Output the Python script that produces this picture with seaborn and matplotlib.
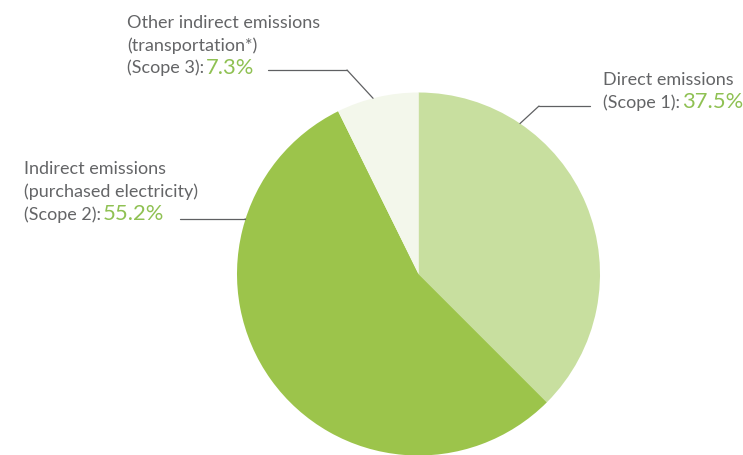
import matplotlib
matplotlib.use("Agg")
import matplotlib.pyplot as plt
import seaborn as sns
import numpy as np
from matplotlib.lines import Line2D

# Emission shares by scope
categories = ["Direct emissions", "Indirect emissions\n(purchased electricity)",
              "Other indirect emissions\n(transportation*)"]
scopes = ["(Scope 1):", "(Scope 2):", "(Scope 3):"]
values = [37.5, 55.2, 7.3]
slice_colors = ["#c8df9f", "#9cc44b", "#f3f7eb"]

sns.set_theme(style="white")
plt.rcParams["font.family"] = ["Lato", "DejaVu Sans"]

W, H = 743, 455
fig = plt.figure(figsize=(W / 100, H / 100), dpi=100)
fig.patch.set_facecolor("white")


def fpos(x, y):
    """Pixel position measured from the top-left corner -> figure fraction."""
    return x / W, 1 - y / H


# Pie axes: centre (418.5, 274) px, radius 181.5 px
cx, cy, r = 418.5, 274, 181.5
ax = fig.add_axes([(cx - r) / W, (H - cy - r) / H, 2 * r / W, 2 * r / H])
wedges, _ = ax.pie(values, colors=slice_colors, startangle=90, counterclock=False,
                   radius=1, wedgeprops=dict(linewidth=0))
for w in wedges:
    w.set_clip_on(False)
ax.set_xlim(-1, 1)
ax.set_ylim(-1, 1)
ax.set_aspect("equal")
ax.axis("off")

text_gray = "#646567"
pct_green = "#8fc153"
line_gray = "#5f6062"
fs_label = 13
fs_pct = 15.8

# Label block layout: left x, baseline of first line, leader line
# (text-side end, elbow, angle on pie rim in degrees)
layout = [
    dict(x=603, y0=85, line_y=106, x_end=590, elbow=539, angle=56.0),
    dict(x=24, y0=174, line_y=219, x_end=180, elbow=245, angle=162.4),
    dict(x=127, y0=27.5, line_y=70, x_end=268, elbow=347, angle=104.5),
]
line_step = 23

for cat, scope, val, lay in zip(categories, scopes, values, layout):
    lines = cat.split("\n")
    y = lay["y0"]
    for ln in lines:
        fig.text(*fpos(lay["x"], y), ln, ha="left", va="baseline",
                 fontsize=fs_label, color=text_gray)
        y += line_step
    t = fig.text(*fpos(lay["x"], y), scope, ha="left", va="baseline",
                 fontsize=fs_label, color=text_gray)
    ax.annotate(f"{val}%", xy=(1, fpos(0, y)[1]), xycoords=(t, "figure fraction"),
                xytext=(1.5, 0), textcoords="offset points", ha="left", va="baseline",
                fontsize=fs_pct, color=pct_green, annotation_clip=False)

    # Leader line: horizontal run, then a diagonal to the pie rim
    fig.add_artist(Line2D([lay["x_end"] / W, lay["elbow"] / W],
                          [1 - lay["line_y"] / H] * 2,
                          transform=fig.transFigure, color=line_gray, lw=0.9))
    a = np.deg2rad(lay["angle"])
    ax.annotate("", xy=(np.cos(a), np.sin(a)), xycoords="data",
                xytext=fpos(lay["elbow"], lay["line_y"]), textcoords="figure fraction",
                arrowprops=dict(arrowstyle="-", color=line_gray, lw=0.9,
                                shrinkA=0, shrinkB=0),
                annotation_clip=False)

fig.savefig("out.png", dpi=100, facecolor="white")
